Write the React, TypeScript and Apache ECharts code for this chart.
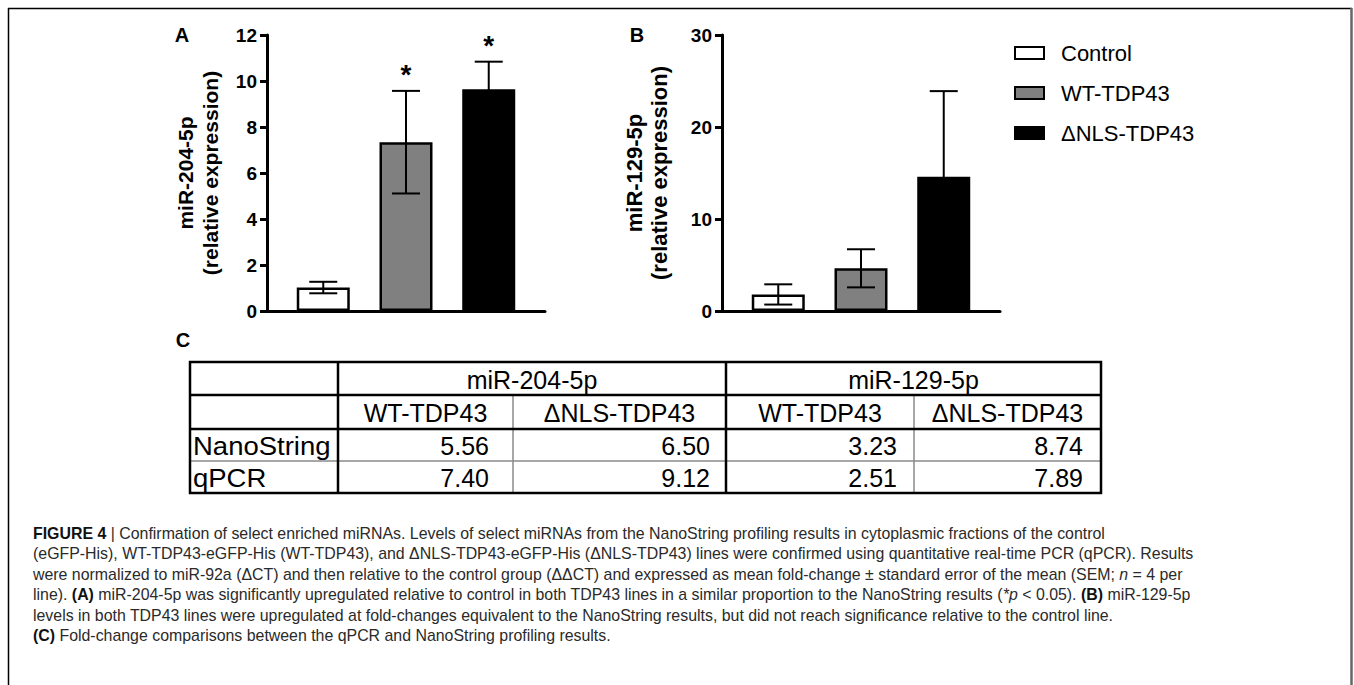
import React, { useEffect, useRef } from "react";
import * as echarts from "echarts";

// ---------- data ----------
const groups = ["Control", "WT-TDP43", "ΔNLS-TDP43"];
const groupColors = ["#ffffff", "#808080", "#000000"];

const miR204Mean = [1.02, 7.34, 9.64];
const miR204Sem = [0.25, 2.23, 1.2];
const miR204Sig = ["", "*", "*"];
const miR204Ticks = { min: 0, max: 12, interval: 2 };

const miR129Mean = [1.8, 4.64, 14.6];
const miR129Sem = [1.1, 2.07, 9.3];
const miR129Sig = ["", "", ""];
const miR129Ticks = { min: 0, max: 30, interval: 10 };

const tableGroups = ["miR-204-5p", "miR-129-5p"];
const tableSubCols = ["WT-TDP43", "ΔNLS-TDP43"];
const tableRows = ["NanoString", "qPCR"];
const nanoStringFC = [5.56, 6.5, 3.23, 8.74];
const qpcrFC = [7.4, 9.12, 2.51, 7.89];

const captionLines = [
  "{b|FIGURE 4} | Confirmation of select enriched miRNAs. Levels of select miRNAs from the NanoString profiling results in cytoplasmic fractions of the control",
  "(eGFP-His), WT-TDP43-eGFP-His (WT-TDP43), and ΔNLS-TDP43-eGFP-His (ΔNLS-TDP43) lines were confirmed using quantitative real-time PCR (qPCR). Results",
  "were normalized to miR-92a (ΔCT) and then relative to the control group (ΔΔCT) and expressed as mean fold-change ± standard error of the mean (SEM; {i|n} = 4 per",
  "line). {b|(A)} miR-204-5p was significantly upregulated relative to control in both TDP43 lines in a similar proportion to the NanoString results ({i|*p} < 0.05). {b|(B)} miR-129-5p",
  "levels in both TDP43 lines were upregulated at fold-changes equivalent to the NanoString results, but did not reach significance relative to the control line.",
  "{b|(C)} Fold-change comparisons between the qPCR and NanoString profiling results.",
];

const FONT = "'Liberation Sans', Arial, Helvetica, sans-serif";
const CAP_SIZE = 15.9;

function panel(idx: number, left: number, means: number[], sems: number[], sig: string[], ticks: any) {
  const grid = { left, top: 35, width: 278, height: 276 };
  const xAxis = {
    type: "value",
    gridIndex: idx,
    min: -0.68,
    max: 2.68,
    axisLine: { show: true, onZero: false, lineStyle: { color: "#000", width: 3 } },
    axisTick: { show: false },
    axisLabel: { show: false },
    splitLine: { show: false },
  };
  const yAxis = {
    type: "value",
    gridIndex: idx,
    min: ticks.min,
    max: ticks.max,
    interval: ticks.interval,
    axisLine: { show: true, onZero: false, lineStyle: { color: "#000", width: 3 } },
    axisTick: { show: true, length: 7, lineStyle: { color: "#000", width: 3 } },
    axisLabel: { fontSize: 19, fontWeight: "bold", color: "#000", fontFamily: FONT, margin: 10 },
    splitLine: { show: false },
  };
  const bars = groups.map((g, i) => ({
    type: "bar",
    name: g,
    xAxisIndex: idx,
    yAxisIndex: idx,
    data: [[i, means[i]]],
    barWidth: 53,
    barGap: "-100%",
    itemStyle: { color: groupColors[i], borderColor: "#000", borderWidth: 2.5 },
    z: 2,
  }));
  const err = {
    type: "custom",
    xAxisIndex: idx,
    yAxisIndex: idx,
    z: 5,
    data: means.map((m, i) => [i, m - sems[i], m + sems[i]]),
    renderItem: (params: any, api: any) => {
      const x = api.value(0);
      const lo = api.coord([x, api.value(1)]);
      const hi = api.coord([x, api.value(2)]);
      const half = 14;
      const st = { stroke: "#000", lineWidth: 2 };
      const children: any[] = [
        { type: "line", shape: { x1: lo[0], y1: lo[1], x2: hi[0], y2: hi[1] }, style: st },
        { type: "line", shape: { x1: hi[0] - half, y1: hi[1], x2: hi[0] + half, y2: hi[1] }, style: st },
        { type: "line", shape: { x1: lo[0] - half, y1: lo[1], x2: lo[0] + half, y2: lo[1] }, style: st },
      ];
      const s = sig[params.dataIndex];
      if (s) {
        children.push({
          type: "text",
          style: {
            text: s,
            x: hi[0],
            y: hi[1] - 16,
            align: "center",
            verticalAlign: "middle",
            font: `bold 28px ${FONT}`,
            fill: "#000",
          },
        });
      }
      return { type: "group", children };
    },
  };
  return { grid, xAxis, yAxis, series: [...bars, err] };
}

function buildTable(): any[] {
  const xs = [190, 338, 513, 726, 914, 1101];
  const ys = [362, 395, 429, 461, 493];
  const els: any[] = [];
  const thick = { stroke: "#000", lineWidth: 2.5 };
  const thin = { stroke: "#8a8a8a", lineWidth: 1.5 };
  const tFont = `25px ${FONT}`;
  els.push({ type: "line", shape: { x1: xs[0], y1: ys[3], x2: xs[5], y2: ys[3] }, style: thin });
  els.push({ type: "line", shape: { x1: xs[2], y1: ys[1], x2: xs[2], y2: ys[4] }, style: thin });
  els.push({ type: "line", shape: { x1: xs[4], y1: ys[1], x2: xs[4], y2: ys[4] }, style: thin });
  els.push({ type: "rect", shape: { x: xs[0], y: ys[0], width: xs[5] - xs[0], height: ys[4] - ys[0] }, style: { fill: "none", ...thick } });
  els.push({ type: "line", shape: { x1: xs[0], y1: ys[1], x2: xs[5], y2: ys[1] }, style: thick });
  els.push({ type: "line", shape: { x1: xs[0], y1: ys[2], x2: xs[5], y2: ys[2] }, style: thick });
  els.push({ type: "line", shape: { x1: xs[1], y1: ys[0], x2: xs[1], y2: ys[4] }, style: thick });
  els.push({ type: "line", shape: { x1: xs[3], y1: ys[0], x2: xs[3], y2: ys[4] }, style: thick });
  const txt = (text: string, x: number, y: number, align: string, extra: any = {}) => ({
    type: "text",
    ...extra,
    style: { text, x, y, align, verticalAlign: "middle", font: tFont, fill: "#000" },
  });
  const cy = (r: number) => (ys[r] + ys[r + 1]) / 2 + 1;
  tableGroups.forEach((g, gi) => {
    els.push(txt(g, (xs[1 + gi * 2] + xs[3 + gi * 2]) / 2, cy(0), "center"));
    tableSubCols.forEach((c, ci) => {
      const k = 1 + gi * 2 + ci;
      els.push(txt(c, (xs[k] + xs[k + 1]) / 2, cy(1), "center"));
    });
  });
  const rights = [489, 710, 897, 1083];
  [nanoStringFC, qpcrFC].forEach((vals, ri) => {
    els.push({
      type: "text",
      x: 193,
      y: cy(2 + ri),
      scaleX: 1.1,
      style: { text: tableRows[ri], x: 0, y: 0, align: "left", verticalAlign: "middle", font: tFont, fill: "#000" },
    });
    vals.forEach((v, vi) => els.push(txt(v.toFixed(2), rights[vi], cy(2 + ri), "right")));
  });
  return els;
}

export default function App() {
  const ref = useRef<HTMLDivElement>(null);
  useEffect(() => {
    if (!ref.current) return;
    const chart = echarts.init(ref.current, undefined, { renderer: "svg" });
    const pA = panel(0, 267, miR204Mean, miR204Sem, miR204Sig, miR204Ticks);
    const pB = panel(1, 722, miR129Mean, miR129Sem, miR129Sig, miR129Ticks);

    const yName = (lines: string, x: number, size: number) => ({
      type: "text",
      x,
      y: 173,
      rotation: Math.PI / 2,
      style: {
        text: lines,
        x: 0,
        y: 0,
        align: "center",
        verticalAlign: "middle",
        font: `bold ${size}px ${FONT}`,
        lineHeight: 25,
        fill: "#000",
      },
    });
    const label = (t: string, x: number, y: number) => ({
      type: "text",
      style: { text: t, x, y, align: "center", verticalAlign: "middle", font: `bold 20px ${FONT}`, fill: "#000" },
    });

    const caption = captionLines.map((line, i) => ({
      type: "text",
      style: {
        text: line,
        x: 33,
        y: 533 + i * 20.5,
        align: "left",
        verticalAlign: "middle",
        font: `${CAP_SIZE}px ${FONT}`,
        fill: "#2a2a2a",
        rich: {
          b: { fontWeight: "bold", fontSize: CAP_SIZE, fontFamily: FONT, fill: "#111" },
          i: { fontStyle: "italic", fontSize: CAP_SIZE, fontFamily: FONT, fill: "#2a2a2a" },
        },
      },
    }));

    const graphic: any[] = [
      { type: "line", shape: { x1: 8, y1: 8.5, x2: 1352, y2: 8.5 }, style: { stroke: "#000", lineWidth: 1.5 } },
      { type: "line", shape: { x1: 8.5, y1: 8, x2: 8.5, y2: 700 }, style: { stroke: "#000", lineWidth: 1.5 } },
      { type: "line", shape: { x1: 1351.5, y1: 8, x2: 1351.5, y2: 700 }, style: { stroke: "#666", lineWidth: 2.5 } },
      label("A", 182, 35),
      label("B", 637, 35),
      label("C", 183, 340),
      yName("miR-204-5p\n(relative expression)", 198, 21),
      yName("miR-129-5p\n(relative expression)", 647, 22),
      ...buildTable(),
      ...caption,
    ];

    chart.setOption({
      animation: false,
      backgroundColor: "#fff",
      grid: [pA.grid, pB.grid],
      xAxis: [pA.xAxis, pB.xAxis],
      yAxis: [pA.yAxis, pB.yAxis],
      legend: {
        data: groups,
        orient: "vertical",
        left: 1014,
        top: 42,
        padding: 0,
        icon: "rect",
        itemWidth: 29,
        itemHeight: 12,
        itemGap: 18,
        itemStyle: { borderColor: "#000", borderWidth: 2 },
        textStyle: { fontSize: 22, lineHeight: 22, color: "#000", fontFamily: FONT, padding: [0, 0, 0, 12] },
        selectedMode: false,
      },
      series: [...pA.series, ...pB.series],
      graphic,
    });
    return () => chart.dispose();
  }, []);
  return <div ref={ref} style={{ position: "fixed", left: 0, top: 0, width: 1354, height: 685 }} />;
}
